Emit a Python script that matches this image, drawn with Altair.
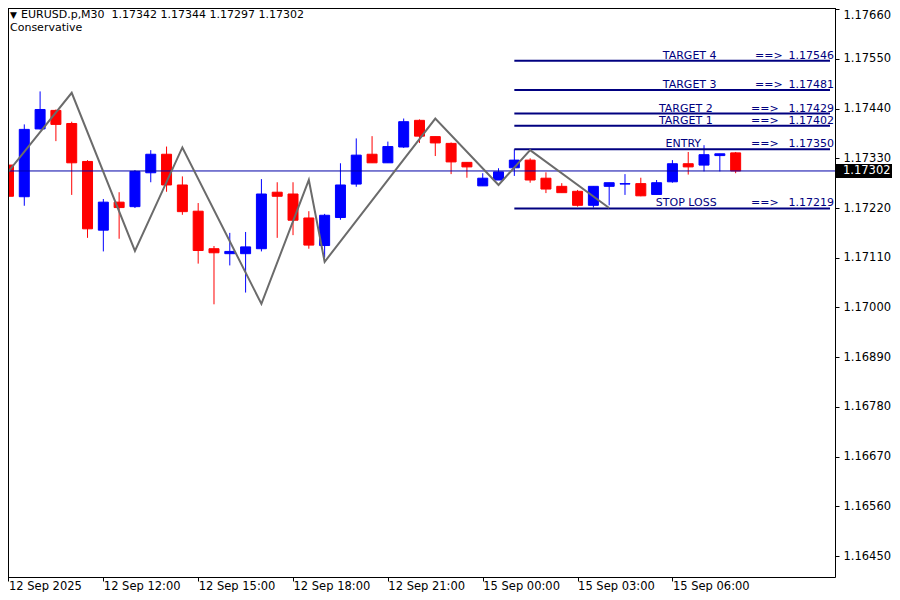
import altair as alt
import pandas as pd

# ---------------- data ----------------
OPEN = [1.17315, 1.17245, 1.17395, 1.17436, 1.17407, 1.17323, 1.17171, 1.17233, 1.17223, 1.17298,
        1.17339, 1.17271, 1.17213, 1.17130, 1.17119, 1.17119, 1.17130, 1.17255, 1.17251, 1.17198,
        1.17137, 1.17199, 1.17273, 1.17339, 1.17320, 1.17355, 1.17414, 1.17378, 1.17363, 1.17321,
        1.17269, 1.17282, 1.17309, 1.17326, 1.17286, 1.17268, 1.17257, 1.17226, 1.17268, 1.17273,
        1.17274, 1.17250, 1.17278, 1.17318, 1.17315, 1.17336, 1.17342]
HIGH = [1.17319, 1.17405, 1.17478, 1.17438, 1.17411, 1.17326, 1.17240, 1.17255, 1.17304, 1.17348,
        1.17356, 1.17290, 1.17231, 1.17136, 1.17165, 1.17167, 1.17284, 1.17277, 1.17277, 1.17213,
        1.17207, 1.17319, 1.17374, 1.17379, 1.17367, 1.17418, 1.17416, 1.17378, 1.17365, 1.17321,
        1.17297, 1.17308, 1.17350, 1.17330, 1.17299, 1.17275, 1.17260, 1.17268, 1.17276, 1.17295,
        1.17287, 1.17282, 1.17326, 1.17344, 1.17359, 1.17340, 1.17344]
LOW = [1.17220, 1.17225, 1.17394, 1.17368, 1.17249, 1.17154, 1.17124, 1.17152, 1.17220, 1.17277,
       1.17256, 1.17205, 1.17097, 1.17007, 1.17093, 1.17033, 1.17124, 1.17154, 1.17160, 1.17130,
       1.17110, 1.17194, 1.17267, 1.17320, 1.17320, 1.17353, 1.17364, 1.17335, 1.17295, 1.17287,
       1.17269, 1.17282, 1.17291, 1.17276, 1.17253, 1.17254, 1.17223, 1.17221, 1.17226, 1.17249,
       1.17246, 1.17250, 1.17276, 1.17294, 1.17301, 1.17301, 1.17297]
CLOSE = [1.17246, 1.17394, 1.17438, 1.17405, 1.17320, 1.17174, 1.17233, 1.17221, 1.17301, 1.17339,
         1.17271, 1.17212, 1.17126, 1.17121, 1.17124, 1.17134, 1.17251, 1.17246, 1.17193, 1.17138,
         1.17204, 1.17271, 1.17337, 1.17320, 1.17356, 1.17411, 1.17379, 1.17364, 1.17322, 1.17311,
         1.17286, 1.17300, 1.17326, 1.17282, 1.17262, 1.17254, 1.17226, 1.17268, 1.17276, 1.17274,
         1.17247, 1.17276, 1.17318, 1.17311, 1.17338, 1.17340, 1.17302]

ZZ_INDEX = [0, 4, 8, 11, 16, 19, 20, 27, 31, 33, 38]
ZZ_PRICE = [1.17301, 1.17475, 1.17125, 1.17354, 1.17008, 1.17282, 1.17101, 1.17418, 1.17271, 1.17348, 1.17220]

LEVEL_NAMES = ["TARGET 4", "TARGET 3", "TARGET 2", "TARGET 1", "ENTRY", "STOP LOSS"]
LEVEL_PRICES = [1.17546, 1.17481, 1.17429, 1.17402, 1.17350, 1.17219]
LEVEL_START_BAR = 32

X_TICK_BARS = [0, 6, 12, 18, 24, 30, 36, 42]
X_TICK_LABELS = ["12 Sep 2025", "12 Sep 12:00", "12 Sep 15:00", "12 Sep 18:00",
                 "12 Sep 21:00", "15 Sep 00:00", "15 Sep 03:00", "15 Sep 06:00"]
Y_TICKS = [1.16450, 1.16560, 1.16670, 1.16780, 1.16890, 1.17000,
           1.17110, 1.17220, 1.17330, 1.17440, 1.17550, 1.17660]
BID = 1.17302
SYMBOL = "EURUSD.p,M30"
INDICATOR = "Conservative"

# ---------------- layout / style (not data) ----------------
W, H = 833, 575
X_DOMAIN = [-0.09375, 51.96875]
Y_DOMAIN = [1.164037, 1.176758]
NAME_X = [687.7, 687.7, 683.8, 683.8, 681.3, 684.2]     # pixel centres of level names
ARROW_X = [753, 753, 749, 749, 749, 749]               # pixel starts of "==>"
VALUE_X = 832                                          # pixel right end of values
FONT = "DejaVu Sans"
NAVY = "#000080"

n = len(OPEN)
candles = pd.DataFrame({
    "i": list(range(n)), "open": OPEN, "high": HIGH, "low": LOW, "close": CLOSE,
})
candles["dir"] = ["up" if c >= o else "down" for o, c in zip(OPEN, CLOSE)]

zz = pd.DataFrame({"i": ZZ_INDEX, "p": ZZ_PRICE})

levels = pd.DataFrame({
    "name": LEVEL_NAMES, "p": LEVEL_PRICES,
    "start": [LEVEL_START_BAR] * len(LEVEL_NAMES),
    "end": [X_DOMAIN[1]] * len(LEVEL_NAMES),
    "val": [f"{v:.5f}" for v in LEVEL_PRICES],
    "arrow": ["==>"] * len(LEVEL_NAMES),
    "nx": NAME_X, "ax": ARROW_X,
})

bid = pd.DataFrame({"p": [BID], "val": [f"{BID:.5f}"]})

xs = alt.Scale(domain=X_DOMAIN, nice=False, zero=False)
ys = alt.Scale(domain=Y_DOMAIN, nice=False, zero=False)

labels_js = "[" + ",".join(f"'{s}'" for s in X_TICK_LABELS) + "]"
idx_js = "[" + ",".join(str(v) for v in X_TICK_BARS) + "]"

xaxis = alt.Axis(values=X_TICK_BARS, labelExpr=f"{labels_js}[indexof({idx_js}, datum.value)]",
                 grid=False, domain=False, tickSize=4, tickColor="black",
                 labelAlign="left", labelBaseline="top", labelPadding=-1, labelFlush=False,
                 labelOverlap=False, labelColor="black", labelFont=FONT, labelFontSize=11.5,
                 title=None)
yaxis = alt.Axis(orient="right", values=Y_TICKS, format=".5f", grid=False, domain=False,
                 tickSize=4, tickColor="black", labelPadding=4, labelFlush=False,
                 labelOverlap=False, labelColor="black", labelFont=FONT, labelFontSize=11.5,
                 labelBaseline={"condition": {"test": f"datum.value >= {Y_TICKS[-1] - 0.00001}",
                                              "value": "top"}, "value": "middle"},
                 title=None)

color = alt.Color("dir:N", scale=alt.Scale(domain=["up", "down"], range=["#0000ff", "#ff0000"]),
                  legend=None)

base = alt.Chart(candles)

wicks = base.mark_rule(strokeWidth=1, clip=True).encode(
    x=alt.X("i:Q", scale=xs, axis=xaxis),
    y=alt.Y("low:Q", scale=ys, axis=yaxis),
    y2="high:Q",
    color=color,
)
bodies = base.mark_bar(size=10, strokeWidth=1, clip=True).encode(
    x=alt.X("i:Q", scale=xs),
    y=alt.Y("open:Q", scale=ys),
    y2="close:Q",
    color=color,
    stroke=color,
)

bid_line = alt.Chart(bid).mark_rule(color="#0000a8", strokeWidth=1).encode(
    y=alt.Y("p:Q", scale=ys))

level_lines = alt.Chart(levels).mark_rule(color=NAVY, strokeWidth=2, clip=True).encode(
    x=alt.X("start:Q", scale=xs), x2="end:Q", y=alt.Y("p:Q", scale=ys))

txt = dict(font=FONT, fontSize=11, color=NAVY, baseline="alphabetic", dy=-2)
level_names = alt.Chart(levels).mark_text(align="center", **txt).encode(
    x=alt.X("nx:Q", scale=None), y=alt.Y("p:Q", scale=ys), text="name:N")
level_arrows = alt.Chart(levels).mark_text(align="left", **txt).encode(
    x=alt.X("ax:Q", scale=None), y=alt.Y("p:Q", scale=ys), text="arrow:N")
level_vals = alt.Chart(levels).mark_text(align="right", **txt).encode(
    x=alt.value(VALUE_X), y=alt.Y("p:Q", scale=ys), text="val:N")

zigzag = alt.Chart(zz).mark_line(color="#6b6b6b", strokeWidth=2, clip=True).encode(
    x=alt.X("i:Q", scale=xs), y=alt.Y("p:Q", scale=ys))

price_box = alt.Chart(bid).mark_rule(color="black", strokeWidth=14, strokeCap="butt").encode(
    x=alt.value(W + 1), x2=alt.value(W + 62), y=alt.Y("p:Q", scale=ys))
price_txt = alt.Chart(bid).mark_text(align="left", baseline="middle", font=FONT,
                                     fontSize=11.5, color="white").encode(
    x=alt.value(W + 8), y=alt.Y("p:Q", scale=ys), text="val:N")

# visible frame edges where the page margin hides the plot's own left/top border
frame = alt.Chart(bid).mark_rule(color="black", strokeWidth=1).encode(
    x=alt.value(6.5), y=alt.value(6), y2=alt.value(H))
frame_top = alt.Chart(bid).mark_rule(color="black", strokeWidth=1).encode(
    x=alt.value(6), x2=alt.value(W), y=alt.value(6.5))

hdr_df = pd.DataFrame({"t": ["\u25BC", SYMBOL + "\u00a0\u00a0" + "\u00a0".join(
    f"{v:.5f}" for v in [OPEN[-1], HIGH[-1], LOW[-1], CLOSE[-1]]), INDICATOR],
    "k": [0, 1, 2]})
tri = alt.Chart(hdr_df).transform_filter("datum.k == 0").mark_text(
    align="left", baseline="middle", font=FONT, fontSize=9, color="black").encode(
    x=alt.value(8), y=alt.value(12.5), text="t:N")
hdr1 = alt.Chart(hdr_df).transform_filter("datum.k == 1").mark_text(
    align="left", baseline="middle", font=FONT, fontSize=11, color="black").encode(
    x=alt.value(19), y=alt.value(13), text="t:N")
hdr2 = alt.Chart(hdr_df).transform_filter("datum.k == 2").mark_text(
    align="left", baseline="middle", font=FONT, fontSize=11, color="black").encode(
    x=alt.value(8), y=alt.value(25.5), text="t:N")

chart = alt.layer(
    wicks, bodies, bid_line, level_lines, zigzag, level_names, level_arrows, level_vals,
    price_box, price_txt, frame, frame_top, tri, hdr1, hdr2,
).properties(
    width=W, height=H,
    autosize=alt.AutoSizeParams(type="none"),
    padding={"left": -6, "top": -6, "right": 57, "bottom": 15},
    background="white",
).configure_view(stroke="black", strokeWidth=1)

chart.save("out.html", embed_options={"renderer": "svg", "actions": False})
